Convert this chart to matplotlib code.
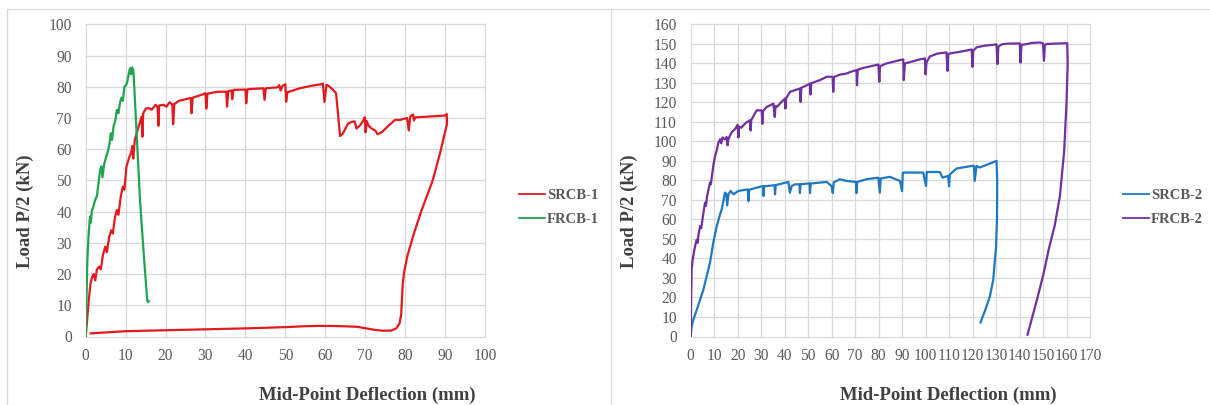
import matplotlib
matplotlib.use("Agg")
import matplotlib.pyplot as plt
from matplotlib.lines import Line2D

# ---------------- data ----------------
srcb1_x = [0, 0.4, 0.8, 1.2, 1.6, 2.0, 2.4, 2.8, 3.4, 3.8, 4.3, 4.9, 5.3, 5.9, 6.4, 6.8, 7.3, 7.8, 8.2,
           8.8, 9.3, 9.7, 10.2, 10.8, 11.4, 11.7, 11.9, 12.3, 13.2, 14.0, 14.2, 14.4, 15.1, 16.0, 16.5,
           17.5, 18.0, 18.2, 18.4, 19.5, 20.2, 21.0, 21.7, 21.9, 22.2, 23.4, 25.0, 26.3, 26.5, 26.8,
           28.5, 30.0, 30.2, 30.5, 33.1, 35.2, 35.4, 35.7, 36.5, 36.7, 37.0, 40.0, 40.2, 40.5, 44.5,
           44.8, 45.1, 48.0, 48.5, 48.8, 49.3, 50.0, 50.2, 50.5, 53.6, 56.5, 59.0, 59.4, 59.8, 60.3,
           60.8, 61.9, 62.7, 63.1, 63.7, 64.4, 65.7, 66.5, 67.4, 67.8, 68.7, 69.5, 69.9, 70.1, 70.4,
           70.8, 71.6, 72.5, 73.1, 74.2, 75.9, 77.5, 78.8, 80.5, 80.9, 81.3, 81.6, 82.0, 82.2, 82.6,
           85.5, 88.0, 90.1, 90.4, 90.5, 90.4, 88.7, 86.9, 84.0, 82.2, 80.6, 79.8, 79.4, 79.2, 79.0,
           78.6, 77.8, 76.5, 74.4, 72.5, 70.2, 68.0, 66.3, 63.0, 58.6, 55.0, 50.0, 40.0, 30.0, 20.0,
           10.0, 5.0, 1.25]
srcb1_y = [0, 6, 12, 17, 19, 20, 18, 21.5, 22.4, 21.5, 26, 28.8, 27, 32, 34, 33, 38, 40.5, 39,
           45, 48, 47, 54.4, 57, 59, 61, 57, 63, 67, 70.4, 64, 71.5, 73.1, 73.1, 72.6,
           74.2, 73.5, 67.5, 74.0, 74.2, 73.6, 75.0, 74.3, 68, 74.5, 75.5, 76, 76.4, 71.5, 76.5,
           77.2, 77.9, 73, 77.8, 78.4, 78.4, 73.6, 78.6, 78.8, 76, 79, 79.1, 74.7, 79.2, 79.5,
           75.8, 79.5, 79.8, 80.5, 78.8, 80.3, 80.8, 75.2, 78.2, 79.5, 80.3, 80.8, 81.0, 75.1, 80.6,
           80.3, 79.1, 77.9, 72.6, 64.2, 65.0, 68.2, 68.7, 68.9, 66.6, 67.6, 69.2, 70.2, 65.4, 69.0,
           67.6, 66.6, 66.0, 64.8, 65.5, 67.6, 69.4, 69.4, 70.0, 66.0, 70.5, 70.8, 71.1, 69.2, 70.2,
           70.4, 70.6, 70.8, 71.3, 68.6, 67.6, 58.5, 50.0, 40.0, 33.0, 26.0, 21.0, 17.0, 12.0, 7.0,
           4.2, 2.6, 1.9, 1.85, 2.1, 2.6, 3.1, 3.2, 3.35, 3.4, 3.3, 3.0, 2.6, 2.3, 2.0,
           1.7, 1.3, 1.0]

frcb1_x = [0, 0.2, 0.4, 0.7, 1.0, 1.2, 1.3, 1.5, 1.9, 2.4, 2.8, 3.1, 3.4, 3.6, 3.9, 4.2, 4.6, 5.0,
           5.4, 5.7, 6.0, 6.3, 6.6, 7.0, 7.4, 7.8, 8.2, 8.6, 9.0, 9.3, 9.7, 10.1, 10.4, 10.7, 11.0,
           11.2, 11.4, 11.6, 11.9, 12.0, 12.8, 13.6, 14.5, 15.4, 15.6, 15.8]
frcb1_y = [0, 12, 24, 32, 37.4, 38.5, 36.5, 40, 41.6, 43.8, 45, 48, 51.2, 53, 54.5, 51, 55, 57,
           58.7, 60, 62, 65.1, 63, 67.5, 69, 72.6, 71.5, 75, 76.5, 75.5, 80, 80.5, 81.5, 83.5, 85.5,
           86.0, 84, 86.2, 85.4, 84, 64, 43.7, 27, 11.7, 11.0, 11.3]

srcb2_x = [0, 0.4, 1.1, 2.6, 4.0, 5.4, 6.8, 8.2, 9.6, 11.1, 12.5, 13.2, 14.6, 15.2, 15.5, 16.1, 17.0,
           18.2, 20.3, 24.3, 24.6, 24.9, 28.1, 30.8, 31.0, 31.3, 35.7, 35.9, 36.2, 41.6, 42.2, 43.0,
           44.4, 46.3, 46.5, 46.8, 50.6, 50.8, 51.1, 57.9, 60.0, 60.5, 60.9, 63.5, 66.4, 70.4, 70.6,
           70.9, 74.9, 79.9, 80.5, 80.9, 84.8, 89.1, 90.0, 90.3, 91.2, 99.0, 100.2, 100.5, 106.1,
           107.2, 109.6, 110.0, 110.3, 113.2, 119.6, 120.6, 120.9, 121.7, 123.1, 130.2, 130.5,
           130.4, 130.0, 128.8, 127.4, 125.2, 123.4]
srcb2_y = [0, 5.1, 8.6, 13.7, 18.9, 24, 30.9, 37.7, 48, 56.6, 62.6, 65.1, 73.7, 73.0, 67.2, 72.9, 74.6,
           72.9, 74.6, 75.4, 69.4, 75.2, 76.3, 77.1, 72, 77.0, 77.5, 72.9, 77.6, 79.2, 73.7, 77.1,
           78.0, 78.0, 73.5, 78.0, 78.5, 73.5, 78.4, 79.2, 77.1, 73.5, 79.0, 80.6, 79.7, 79.2, 73.5,
           79.2, 80.6, 81.4, 73.7, 81.0, 81.8, 79.7, 74.5, 84.0, 84.0, 84.0, 77.1, 84.3, 84.3,
           81.4, 82.3, 77.0, 83.0, 86.1, 87.4, 87.4, 79.7, 87.4, 86.6, 90.0, 80.0,
           60.0, 46.0, 29.0, 20.6, 12.9, 7.2]

frcb2_x = [0, 0.2, 0.4, 0.8, 1.1, 1.5, 2.0, 2.6, 3.0, 3.3, 4.0, 4.5, 5.0, 6.1, 6.5, 7.0, 8.2, 8.6,
           9.0, 9.6, 10.4, 11.0, 11.8, 12.5, 13.0, 13.5, 14.6, 15.3, 15.7, 16.0, 17.4, 19.0, 20.0,
           20.3, 20.6, 21.5, 23.5, 25.2, 25.5, 25.8, 28.1, 30.2, 30.5, 30.8, 32.3, 35.2, 35.8, 36.1,
           36.6, 38.5, 40.1, 40.3, 40.6, 42.3, 44.5, 46.5, 46.8, 47.1, 49.0, 50.8, 51.0, 51.3, 55.0,
           57.9, 60.4, 60.7, 61.0, 63.5, 66.4, 68.5, 70.6, 70.8, 71.1, 73.0, 75.6, 79.9, 80.3, 80.6,
           83.0, 86.2, 88.5, 90.5, 90.7, 91.2, 94.8, 97.5, 99.7, 100.0, 100.4, 101.8, 105.0, 108.9,
           109.3, 109.6, 110.4, 114.6, 117.0, 119.6, 120.0, 120.3, 121.7, 125.0, 130.2, 130.6,
           131.0, 132.3, 135.0, 138.7, 140.1, 140.4, 140.8, 142.3, 145.0, 148.7, 150.0, 150.4,
           150.8, 151.5, 155.0, 158.0, 160.3, 160.5, 160.0, 159.0, 157.2, 155.0, 152.5, 150.0,
           147.0, 145.0, 143.4]
frcb2_y = [0, 20, 34.3, 39, 41.1, 44, 47, 49.7, 48, 52, 56.6, 55.5, 60, 68.6, 67, 72, 78.9, 78,
           82, 87.4, 92.6, 95, 99.4, 101.1, 99, 102, 101, 102.2, 98, 101, 104.6, 106.5, 108.5,
           102, 107.5, 107.0, 109.5, 110.8, 105.6, 111, 115.9, 115.9, 109, 115.5, 117.6, 119.3, 112.5, 118,
           117.6, 120, 121.9, 116.8, 122, 125.4, 126.3, 127.1, 120.2, 127.5, 128.5, 129.6, 124, 129.8, 131.4,
           133.1, 133.1, 125.4, 133, 134.2, 134.8, 135.8, 136.5, 128.8, 136.7, 137.5, 138.2, 139.4, 130.5, 138.5,
           139.8, 140.8, 141.5, 142, 131.4, 139.9, 141.1, 142, 142.5, 134.4, 140.5, 143.5, 145, 145.6,
           136.1, 144.5, 145.1, 145.9, 146.5, 147.1, 138.2, 146.5, 148.2, 149, 149.7, 139.6,
           148.5, 149.7, 150.1, 150.2, 150.2, 140.4, 149.5, 149.7, 150.4, 150.7, 150.2, 141.3,
           149.5, 149.9, 150.1, 150.2, 150.3, 140, 120, 95, 72, 57, 45, 31,
           17, 8, 0.9]

left_labels = ["SRCB-1", "FRCB-1"]
right_labels = ["SRCB-2", "FRCB-2"]
left_xticks = list(range(0, 101, 10))
left_yticks = list(range(0, 101, 10))
right_xticks = list(range(0, 171, 10))
right_yticks = list(range(0, 161, 10))
xlabel = "Mid-Point Deflection (mm)"
ylabel = "Load P/2 (kN)"

# ---------------- styling ----------------
W, H = 1210, 405
FONT = "Liberation Serif"
TICK_C = "#595959"
TITLE_C = "#404040"
GRID_C = "#d9d9d9"
RED, GREEN, BLUE, PURPLE = "#e3191d", "#1fa550", "#1f78c0", "#7030a0"

plt.rcParams["font.family"] = [FONT, "DejaVu Serif"]

fig = plt.figure(figsize=(W / 100, H / 100), dpi=100)


def fx(px):
    return px / W


def fy(py):
    return 1 - py / H


def make_axes(left_px, right_px, xmax, ymax, xticks, yticks):
    top_px, bot_px = 24.3, 336.5
    ax = fig.add_axes([fx(left_px), fy(bot_px), fx(right_px - left_px), (bot_px - top_px) / H])
    ax.set_xlim(0, xmax)
    ax.set_ylim(0, ymax)
    ax.set_xticks(xticks)
    ax.set_yticks(yticks)
    for s in ax.spines.values():
        s.set_visible(False)
    ax.grid(True, color=GRID_C, lw=0.9)
    ax.set_axisbelow(True)
    ax.tick_params(length=0, labelsize=11.2, colors=TICK_C, pad=8)
    ax.tick_params(axis="y", pad=10)
    for lab in ax.get_xticklabels() + ax.get_yticklabels():
        lab.set_fontfamily(FONT)
    # gridlines at the limits should not be clipped away
    for gl in ax.get_xgridlines() + ax.get_ygridlines():
        gl.set_clip_on(False)
    return ax


ax1 = make_axes(85.7, 485.0, 100, 100, left_xticks, left_yticks)
ax1.plot(srcb1_x, srcb1_y, color=RED, lw=1.6, label=left_labels[0])
ax1.plot(frcb1_x, frcb1_y, color=GREEN, lw=1.6, label=left_labels[1])

ax2 = make_axes(690.7, 1090.0, 170, 160, right_xticks, right_yticks)
ax2.plot(srcb2_x, srcb2_y, color=BLUE, lw=1.6, label=right_labels[0])
ax2.plot(frcb2_x, frcb2_y, color=PURPLE, lw=1.6, label=right_labels[1])

for ax, lx in ((ax1, 519), (ax2, 1123)):
    leg = ax.legend(loc="center left", bbox_to_anchor=(fx(lx), fy(207.5)),
                    bbox_transform=fig.transFigure, frameon=False,
                    borderpad=0, borderaxespad=0, handlelength=1.75,
                    handletextpad=0.15, labelspacing=0.75,
                    prop={"family": FONT, "weight": "bold", "size": 10.5})
    for t in leg.get_texts():
        t.set_color(TICK_C)
    for h in leg.get_lines():
        h.set_linewidth(1.3)

# axis titles
for cx in (25.3, 629):
    fig.text(fx(cx), fy(211), ylabel, rotation=90, ha="center", va="center",
             fontsize=13.5, fontweight="bold", color=TITLE_C, family=FONT)
for cx in (367, 948):
    fig.text(fx(cx), fy(395), xlabel, ha="center", va="center",
             fontsize=13.5, fontweight="bold", color=TITLE_C, family=FONT)

# panel borders
bc = "#d9d9d9"
fig.add_artist(Line2D([fx(6.7), 1], [fy(9.3), fy(9.3)], color=bc, lw=0.9, transform=fig.transFigure))
fig.add_artist(Line2D([fx(6.7), fx(6.7)], [fy(9.3), 0], color=bc, lw=0.9, transform=fig.transFigure))
fig.add_artist(Line2D([fx(611.5), fx(611.5)], [fy(9.3), 0], color=bc, lw=0.9, transform=fig.transFigure))

fig.savefig("out.png", dpi=100, facecolor="white")
